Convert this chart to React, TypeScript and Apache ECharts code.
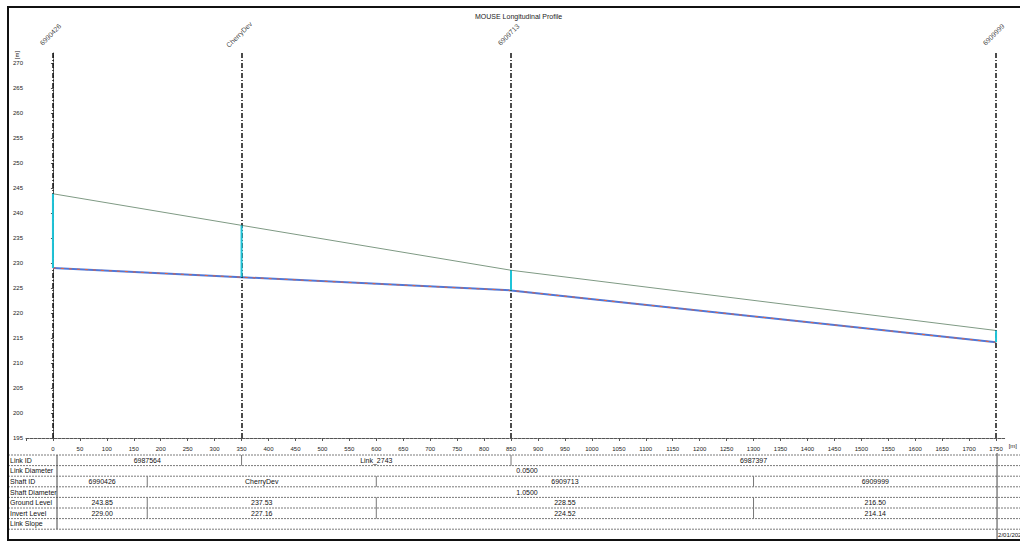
import React, { useEffect, useRef } from "react";
import * as echarts from "echarts";

// ---- data ----
const chainages = [0, 350, 850, 1750];
const shaftIds = ["6990426", "CherryDev", "6909713", "6909999"];
const groundLevels = [243.85, 237.53, 228.55, 216.5];
const invertLevels = [229.0, 227.16, 224.52, 214.14];
const linkIds = ["6987564", "Link_2743", "6987397"];
const linkDiameter = "0.0500";
const shaftDiameter = "1.0500";
const rowLabels = ["Link ID", "Link Diameter", "Shaft ID", "Shaft Diameter", "Ground Level", "Invert Level", "Link Slope"];
const dateText = "2/01/2021";

const FONT = "Liberation Sans, Arial, sans-serif";

export default function App() {
  const ref = useRef<HTMLDivElement>(null);
  useEffect(() => {
    document.body.style.margin = "0";
    const chart = echarts.init(ref.current!, null, { renderer: "svg" });
    const topY = 272;
    const option: any = {
      animation: false,
      backgroundColor: "#fff",
      title: {
        text: "MOUSE Longitudinal Profile",
        left: 470,
        top: 8,
        textStyle: { fontSize: 7, fontWeight: "normal", color: "#222", fontFamily: FONT },
      },
      grid: { left: 26, right: 12, top: 53, bottom: 104 },
      xAxis: {
        type: "value",
        min: -50,
        max: 1766,
        interval: 50,
        name: "[m]",
        nameLocation: "end",
        nameGap: 4,
        nameTextStyle: { fontSize: 6, color: "#222", fontFamily: FONT, verticalAlign: "top", padding: [5, 0, 0, 0] },
        axisLine: { lineStyle: { color: "#555", type: [3, 1], width: 1 } },
        axisTick: { length: 3, lineStyle: { color: "#555" } },
        axisLabel: {
          fontSize: 6,
          color: "#222",
          fontFamily: FONT,
          margin: 8,
          showMaxLabel: false,
          formatter: (v: number) => (v >= 0 && v % 50 === 0 ? String(v) : ""),
        },
        splitLine: { show: false },
      },
      yAxis: {
        type: "value",
        min: 195,
        max: topY,
        interval: 5,
        axisLine: { show: true, lineStyle: { color: "#555", type: [3, 1], width: 1 } },
        axisTick: { show: true, length: 2, lineStyle: { color: "#555" } },
        axisLabel: {
          fontSize: 6,
          color: "#222",
          fontFamily: FONT,
          margin: 3,
          showMaxLabel: false,
          formatter: (v: number) => (v % 5 === 0 ? String(v) : ""),
        },
        splitLine: { show: false },
      },
      series: [
        {
          name: "Ground Level",
          type: "line",
          data: chainages.map((c, i) => [c, groundLevels[i]]),
          symbol: "none",
          lineStyle: { color: "#7f9a84", width: 1 },
          z: 2,
          markLine: {
            silent: true,
            symbol: "none",
            label: { show: false },
            lineStyle: { color: "#111", width: 1.5, type: [5, 2, 1, 2] },
            data: chainages.map((c) => ({ xAxis: c })),
          },
        },
        {
          name: "Invert Level",
          type: "line",
          data: chainages.map((c, i) => [c, invertLevels[i]]),
          symbol: "none",
          lineStyle: { color: "#5077d6", width: 2 },
          z: 3,
        },
        {
          name: "Invert Level overlay",
          type: "line",
          data: chainages.map((c, i) => [c, invertLevels[i]]),
          symbol: "none",
          lineStyle: { color: "#e4613f", width: 1, type: [3, 5] },
          z: 4,
        },
        {
          name: "Shafts",
          type: "custom",
          data: chainages.map((c, i) => [c, invertLevels[i], groundLevels[i]]),
          encode: { x: 0, y: [1, 2] },
          z: 5,
          renderItem: (params: any, api: any) => {
            const p1 = api.coord([api.value(0), api.value(1)]);
            const p2 = api.coord([api.value(0), api.value(2)]);
            return {
              type: "line",
              shape: { x1: p1[0], y1: p1[1], x2: p2[0], y2: p2[1] },
              style: { stroke: "#1fc4d8", lineWidth: 2 },
            };
          },
        },
        {
          name: "Node labels",
          type: "scatter",
          data: chainages.map((c) => [c, topY]),
          symbolSize: 0,
          silent: true,
          label: {
            show: true,
            position: "top",
            distance: 16,
            rotate: 45,
            fontSize: 7,
            color: "#111",
            fontFamily: FONT,
            formatter: (p: any) => shaftIds[p.dataIndex],
          },
        },
      ],
    };
    chart.setOption(option);

    // ---- table below the chart, aligned to the x axis ----
    const px = (v: number) => chart.convertToPixel({ xAxisIndex: 0 }, v) as number;
    const nodePx = chainages.map(px);
    const last = nodePx.length - 1;
    const tableTop = 455;
    const rowH = 10.6;
    const labelRight = 57;
    const rightLine = nodePx[last] + 1;
    const tableBottom = tableTop + rowLabels.length * rowH;
    const g: any[] = [];
    const lineGray = { stroke: "#7a7a7a", lineWidth: 1, lineDash: [2, 1] };
    const txt = (x: number, y: number, text: string, align = "center") => ({
      type: "text",
      x,
      y,
      style: { text, fontSize: 7, fill: "#111", fontFamily: FONT, align, verticalAlign: "middle" },
      silent: true,
    });
    const vline = (x: number, y1: number, y2: number, stroke = "#444") => ({
      type: "line",
      shape: { x1: x, y1, x2: x, y2 },
      style: { stroke, lineWidth: 1 },
      silent: true,
    });
    for (let i = 0; i <= rowLabels.length; i++) {
      const y = tableTop + i * rowH;
      g.push({ type: "line", shape: { x1: 8, y1: y, x2: 1030, y2: y }, style: lineGray, silent: true });
    }
    rowLabels.forEach((l, i) => g.push(txt(10, tableTop + (i + 0.5) * rowH, l, "left")));
    g.push(vline(labelRight, tableTop, tableBottom));
    g.push(vline(rightLine, tableTop - 2, 541));
    const rowY = (i: number) => tableTop + (i + 0.5) * rowH;
    // Link ID row
    for (let i = 1; i < last; i++) g.push(vline(nodePx[i], tableTop, tableTop + rowH, "#777"));
    linkIds.forEach((id, i) => g.push(txt((nodePx[i] + nodePx[i + 1]) / 2, rowY(0), id)));
    // diameters
    g.push(txt((labelRight + rightLine) / 2, rowY(1), linkDiameter));
    g.push(txt((labelRight + rightLine) / 2, rowY(3), shaftDiameter));
    // shaft cells
    const bounds = [labelRight];
    for (let i = 0; i < last; i++) bounds.push((nodePx[i] + nodePx[i + 1]) / 2);
    bounds.push(rightLine);
    for (let i = 1; i < bounds.length - 1; i++) {
      g.push(vline(bounds[i], tableTop + 2 * rowH, tableTop + 3 * rowH, "#777"));
      g.push(vline(bounds[i], tableTop + 4 * rowH, tableTop + 6 * rowH, "#777"));
    }
    chainages.forEach((_, i) => {
      const cx = (bounds[i] + bounds[i + 1]) / 2;
      g.push(txt(cx, rowY(2), shaftIds[i]));
      g.push(txt(cx, rowY(4), groundLevels[i].toFixed(2)));
      g.push(txt(cx, rowY(5), invertLevels[i].toFixed(2)));
    });
    g.push({
      type: "text",
      x: rightLine + 1,
      y: 535,
      style: { text: dateText, fontSize: 6, fill: "#111", fontFamily: FONT, align: "left", verticalAlign: "middle" },
      silent: true,
    });
    // y axis unit
    g.push({
      type: "text",
      x: 17,
      y: 55,
      rotation: Math.PI / 2,
      style: { text: "[m]", fontSize: 6, fill: "#222", fontFamily: FONT, align: "center", verticalAlign: "middle" },
      silent: true,
    });
    // outer frame
    g.push({
      type: "rect",
      shape: { x: 8, y: 7, width: 1030, height: 533 },
      style: { fill: "none", stroke: "#111", lineWidth: 2 },
      silent: true,
      z: 100,
    });
    chart.setOption({ graphic: g });
    return () => chart.dispose();
  }, []);
  return <div ref={ref} style={{ width: 1020, height: 542 }} />;
}
